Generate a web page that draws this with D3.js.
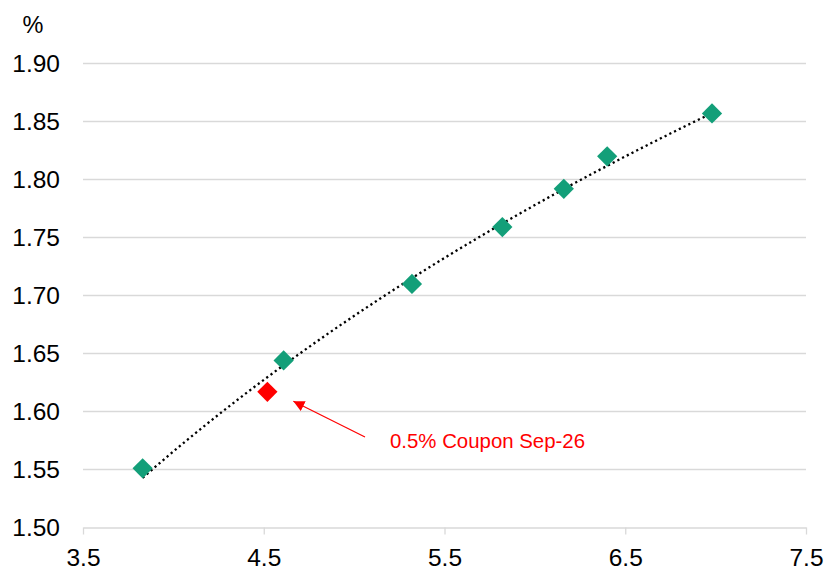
<!DOCTYPE html>
<html>
<head>
<meta charset="utf-8">
<script src="https://cdn.jsdelivr.net/npm/d3@7/dist/d3.min.js"></script>
<style>
  html, body { margin: 0; padding: 0; background: #fff; }
  svg { display: block; font-family: "Liberation Sans", Arial, sans-serif; }
</style>
</head>
<body>
<svg id="chart" width="826" height="570"></svg>
<script>
// Bond curve: yield (%) against maturity (years)
const curveMaturity = [3.83, 4.61, 5.32, 5.82, 6.16, 6.40, 6.98];
const curveYield    = [1.551, 1.644, 1.710, 1.759, 1.792, 1.820, 1.857];
const highlightMaturity = [4.52];
const highlightYield    = [1.617];
const highlightLabel    = "0.5% Coupon Sep-26";
const xTicks = [3.5, 4.5, 5.5, 6.5, 7.5];
const yTicks = [1.50, 1.55, 1.60, 1.65, 1.70, 1.75, 1.80, 1.85, 1.90];
const yUnit = "%";

const svg = d3.select("#chart");
const plotLeft = 83, plotRight = 806, plotTop = 63.5, plotBottom = 527.5;

const x = d3.scaleLinear().domain([3.5, 7.5]).range([plotLeft, plotRight]);
const y = d3.scaleLinear().domain([1.50, 1.90]).range([plotBottom, plotTop]);

const green = "#139f79", red = "#ff0000", grid = "#d9d9d9";

// horizontal gridlines
svg.append("g")
  .selectAll("line")
  .data(yTicks.slice(1))
  .join("line")
  .attr("x1", plotLeft).attr("x2", plotRight)
  .attr("y1", d => y(d)).attr("y2", d => y(d))
  .attr("stroke", grid).attr("stroke-width", 1.3);

// y axis labels
const yAxis = svg.append("g")
  .attr("transform", `translate(${plotLeft},0)`)
  .call(d3.axisLeft(y).tickValues(yTicks).tickFormat(d3.format(".2f")).tickSize(0).tickPadding(23));
yAxis.select(".domain").remove();
yAxis.selectAll("text").attr("font-size", 24.5).attr("fill", "#000")
  .attr("font-family", "Liberation Sans, Arial, sans-serif");

// x axis
const xAxis = svg.append("g")
  .attr("transform", `translate(0,${plotBottom})`)
  .call(d3.axisBottom(x).tickValues(xTicks).tickFormat(d3.format(".1f")).tickSize(7).tickSizeOuter(0).tickPadding(14));
xAxis.select(".domain").attr("stroke", grid).attr("stroke-width", 1.3);
xAxis.selectAll(".tick line").attr("stroke", grid).attr("stroke-width", 1.3);
xAxis.selectAll("text").attr("font-size", 24.5).attr("fill", "#000")
  .attr("font-family", "Liberation Sans, Arial, sans-serif");

// unit label
svg.append("text")
  .attr("x", 33).attr("y", 33)
  .attr("text-anchor", "middle")
  .attr("font-size", 23.5)
  .text(yUnit);

// logarithmic trend line fitted through all bonds
const allX = curveMaturity.concat(highlightMaturity);
const allY = curveYield.concat(highlightYield);
const lx = allX.map(Math.log);
const mx = d3.mean(lx), my = d3.mean(allY);
const b = d3.sum(lx, (v, i) => (v - mx) * (allY[i] - my)) / d3.sum(lx, v => (v - mx) * (v - mx));
const a = my - b * mx;
const [xMin, xMax] = d3.extent(allX);
const trendPts = d3.range(0, 61).map(i => {
  const xv = xMin + (xMax - xMin) * i / 60;
  return [xv, a + b * Math.log(xv)];
});
svg.append("path")
  .datum(trendPts)
  .attr("d", d3.line().x(d => x(d[0])).y(d => y(d[1])))
  .attr("fill", "none")
  .attr("stroke", "#000")
  .attr("stroke-width", 2.3)
  .attr("stroke-dasharray", "2.2,3.1");

// diamonds
const diamond = d3.symbol().type(d3.symbolSquare).size(205);
svg.append("g")
  .selectAll("path")
  .data(curveMaturity.map((m, i) => [m, curveYield[i]]))
  .join("path")
  .attr("d", diamond)
  .attr("transform", d => `translate(${x(d[0])},${y(d[1])}) rotate(45)`)
  .attr("fill", green);

svg.append("g")
  .selectAll("path")
  .data(highlightMaturity.map((m, i) => [m, highlightYield[i]]))
  .join("path")
  .attr("d", diamond)
  .attr("transform", d => `translate(${x(d[0])},${y(d[1])}) rotate(45)`)
  .attr("fill", red);

// annotation arrow and label
svg.append("defs").append("marker")
  .attr("id", "arrowhead")
  .attr("viewBox", "0 0 10 10")
  .attr("refX", 10).attr("refY", 5)
  .attr("markerWidth", 11).attr("markerHeight", 11)
  .attr("markerUnits", "userSpaceOnUse")
  .attr("orient", "auto")
  .append("path")
  .attr("d", "M0,0 L10,5 L0,10 Z")
  .attr("fill", red);

const hx = x(highlightMaturity[0]), hy = y(highlightYield[0]);
svg.append("line")
  .attr("x1", 365).attr("y1", 437)
  .attr("x2", hx + 26).attr("y2", hy + 9.5)
  .attr("stroke", red).attr("stroke-width", 1.2)
  .attr("marker-end", "url(#arrowhead)");

svg.append("text")
  .attr("x", 390).attr("y", 448)
  .attr("font-size", 20.4)
  .attr("fill", red)
  .text(highlightLabel);
</script>
</body>
</html>
